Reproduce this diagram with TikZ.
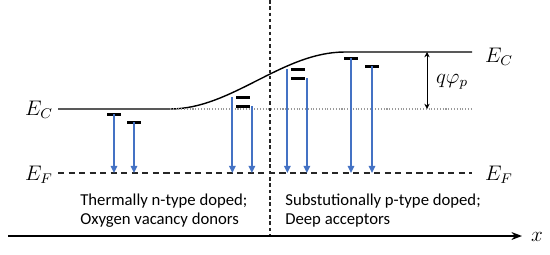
\documentclass[tikz,border=0pt]{standalone}
\usepackage{fontspec}
\newfontfamily\calibri{Carlito}
\usepackage{tikz}
\usetikzlibrary{arrows.meta,positioning,calc}
\definecolor{arrblue}{HTML}{4472C4}

\begin{document}
\begin{tikzpicture}[x=0.02cm, y=-0.02cm,
  band/.style={line width=0.8pt},
  fermi/.style={line width=0.9pt, dash pattern=on 3.5pt off 2.5pt, black!85},
  lvl/.style={fill=black, inner sep=0pt, minimum width=0.27cm, minimum height=0.06cm},
  trans/.style={-{Triangle[length=4pt,width=3.6pt]}, line width=1.1pt, arrblue},
  lbl/.style={font=\fontsize{12}{14}\selectfont},
  note/.style={font=\calibri\fontsize{9.5}{10.5}\selectfont, align=left, anchor=north west, inner sep=0pt},
]
\useasboundingbox (0,0) rectangle (550,254);

% Band edges
\coordinate (ecl) at (58,109);
\coordinate (ecr) at (472,52);
\coordinate (ef) at (58,173);
\coordinate (efr) at (472,173);
\draw[band] (ecl) -- (170,109) .. controls (232,109) and (282,52) .. (345,52) -- (ecr);
\draw[gray!80, line width=0.6pt, densely dotted] (170,109) -- (ecr |- ecl);
\draw[fermi] (ef) -- (efr);

% Interface and axis
\draw[line width=0.7pt, dash pattern=on 2pt off 1.6pt, black!85] (270,0) -- (270,237);
\coordinate (ax0) at (8,236);
\coordinate (ax1) at (522,236);
\draw[line width=0.9pt, -{Stealth[length=6pt]}] (ax0) -- (ax1);
\node[lbl] (xlab) at (537,237) {$x$};

% Labels
\node[lbl] (ecL) at (39,110) {$E_C$};
\node[lbl] (efL) at (39,175) {$E_F$};
\node[lbl] (ecR) at (499,57) {$E_C$};
\node[lbl] (efR) at (499,175) {$E_F$};

% Band offset
\coordinate (qtop) at (427,52);
\coordinate (qbot) at (427,109);
\draw[{Stealth[length=3pt,width=3pt]}-{Stealth[length=3pt,width=3pt]}, line width=0.5pt] (qtop) -- (qbot);
\node[lbl] (qphi) at (452,82) {$q\varphi_p$};

% Defect levels
\node[lvl] (d1)  at (114,114) {};
\node[lvl] (d2)  at (134,122) {};
\node[lvl] (d3a) at (243,97)  {};
\node[lvl] (d3b) at (243,106) {};
\node[lvl] (d4a) at (298,69)  {};
\node[lvl] (d4b) at (298,78)  {};
\node[lvl] (d5)  at (351,58)  {};
\node[lvl] (d6)  at (372,66)  {};

% Transitions to E_F
\draw[trans] (d1.center) -- (d1.center |- ef);
\draw[trans] (d2.center) -- (d2.center |- ef);
\draw[trans] ([xshift=-2]d3a.west) -- ([xshift=-2]d3a.west |- ef);
\draw[trans] ([xshift=1]d3b.east) -- ([xshift=1]d3b.east |- ef);
\draw[trans] ([xshift=-2]d4a.west) -- ([xshift=-2]d4a.west |- ef);
\draw[trans] ([xshift=1]d4b.east) -- ([xshift=1]d4b.east |- ef);
\draw[trans] (d5.center) -- (d5.center |- ef);
\draw[trans] (d6.center) -- (d6.center |- ef);

% Regions
\node[note] (nside) at (80,194) {Thermally n-type doped;\\Oxygen vacancy donors};
\node[note] (pside) at (285,194) {Substutionally p-type doped;\\Deep acceptors};

\end{tikzpicture}
\end{document}
